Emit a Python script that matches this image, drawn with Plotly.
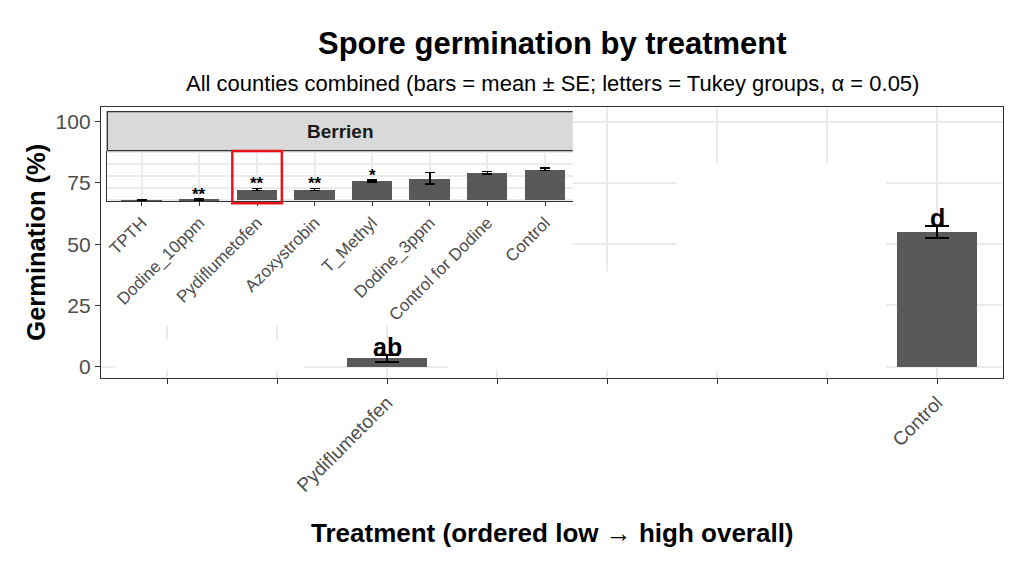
import plotly.graph_objects as go

# treatment order (low -> high overall)
treatments = ["TPTH", "Dodine_10ppm", "Pydiflumetofen", "Azoxystrobin",
              "T_Methyl", "Dodine_3ppm", "Control for Dodine", "Control"]
main_tick_labels = ["", "", "Pydiflumetofen", "", "", "", "", "Control"]

# all counties combined
main_treat = ["Pydiflumetofen", "Control"]
main_mean = [3.4, 54.9]
main_se = [1.4, 2.5]
main_letters = ["ab", "d"]

# Berrien panel
county = "Berrien"
inset_mean = [0.3, 1.5, 22, 22, 40, 45, 57, 64]
inset_se = [0.6, 1.5, 2.0, 2.0, 2.0, 12.0, 2.5, 3.0]
inset_stars = ["", "**", "**", "**", "*", "", "", ""]

y_ticks = [0, 25, 50, 75, 100]

FONT = "Liberation Sans, Arial, sans-serif"
GRID = "#EBEBEB"
AXIS = "#333333"
BAR = "#595959"

fig = go.Figure()

fig.add_trace(go.Bar(
    x=main_treat, y=main_mean, width=0.72,
    marker=dict(color=BAR, line=dict(width=0)),
    error_y=dict(type="data", array=main_se, color="black", thickness=2, width=12),
    xaxis="x", yaxis="y", showlegend=False,
))

fig.add_trace(go.Bar(
    x=treatments, y=inset_mean, width=0.7,
    marker=dict(color=BAR, line=dict(width=0)),
    error_y=dict(type="data", array=inset_se, color="black", thickness=1.6, width=5),
    xaxis="x2", yaxis="y2", showlegend=False,
))

annotations = []
for t, m, s, lab in zip(main_treat, main_mean, main_se, main_letters):
    annotations.append(dict(x=t, y=m + s, xref="x", yref="y", text="<b>%s</b>" % lab,
                            showarrow=False, yanchor="bottom", yshift=-8,
                            font=dict(family=FONT, size=25, color="black")))
for t, m, s, st in zip(treatments, inset_mean, inset_se, inset_stars):
    if st:
        annotations.append(dict(x=t, y=m + s, xref="x2", yref="y2", text="<b>%s</b>" % st,
                                showarrow=False, yanchor="bottom", yshift=-7,
                                font=dict(family=FONT, size=17, color="black")))

annotations += [
    dict(x=0.5, y=1.2325, xref="paper", yref="paper", showarrow=False,
         xanchor="center", yanchor="middle",
         text="<b>Spore germination by treatment</b>",
         font=dict(family=FONT, size=31, color="black")),
    dict(x=0.5, y=1.085, xref="paper", yref="paper", showarrow=False,
         xanchor="center", yanchor="middle",
         text="All counties combined (bars = mean ± SE; letters = Tukey groups, α = 0.05)",
         font=dict(family=FONT, size=22, color="black")),
    dict(x=0.5, y=-0.572, xref="paper", yref="paper", showarrow=False,
         xanchor="center", yanchor="middle",
         text="<b>Treatment (ordered low → high overall)</b>",
         font=dict(family=FONT, size=26, color="black")),
    dict(x=-0.073, y=0.5, xref="paper", yref="paper", showarrow=False, textangle=-90,
         xanchor="center", yanchor="middle",
         text="<b>Germination (%)</b>",
         font=dict(family=FONT, size=25.5, color="black")),
    dict(x=0.265, y=0.911, xref="paper", yref="paper", showarrow=False,
         xanchor="center", yanchor="middle",
         text="<b>%s</b>" % county,
         font=dict(family=FONT, size=19, color="#1A1A1A")),
]

# white patches where the main panel is blank
masks = [(-0.7, 3.69, 17, 110), (4.63, 6.54, -1.4, 83), (3.69, 4.63, -1.4, 39),
         (2.56, 3.69, -1.4, 17), (-0.7, 2.56, 0.8, 11), (-0.47, 1.25, -1.4, 0.8)]
shapes = []
for x0, x1, y0, y1 in masks:
    shapes.append(dict(type="rect", xref="x", yref="y", x0=x0, x1=x1, y0=y0, y1=y1,
                       fillcolor="white", line=dict(width=0), layer="between"))

# facet strip
sx0, sx1, sy0, sy1 = 0.007, 0.523, 0.839, 0.983
shapes.append(dict(type="rect", xref="paper", yref="paper", x0=sx0, x1=sx1, y0=sy0, y1=sy1,
                   fillcolor="#D9D9D9", line=dict(width=0), layer="above"))
shapes.append(dict(type="path", xref="paper", yref="paper",
                   path="M %f,%f L %f,%f L %f,%f M %f,%f L %f,%f" % (
                       sx1, sy1, sx0, sy1, sx0, sy0, sx0, sy0, sx1, sy0),
                   line=dict(color=AXIS, width=1.4), layer="above"))
# highlight box
shapes.append(dict(type="rect", xref="x2", yref="paper", x0=1.57, x1=2.43, y0=0.645, y1=0.838,
                   line=dict(color="#E8141B", width=2.5), layer="above"))

fig.update_layout(
    width=1024, height=576,
    margin=dict(l=101, r=21, t=107, b=198),
    plot_bgcolor="white", paper_bgcolor="white",
    font=dict(family=FONT),
    bargap=0,
    annotations=annotations,
    shapes=shapes,
    xaxis=dict(domain=[0, 1], type="category", categoryorder="array", categoryarray=treatments,
               range=[-0.6, 7.6], tickvals=treatments, ticktext=main_tick_labels,
               tickangle=-45, tickfont=dict(family=FONT, size=19, color="#4D4D4D"),
               ticks="outside", ticklen=5, tickwidth=1.3, tickcolor=AXIS,
               showgrid=True, gridcolor=GRID, gridwidth=1.5,
               showline=True, mirror=True, linecolor=AXIS, linewidth=1.3, anchor="y"),
    yaxis=dict(domain=[0, 1], range=[-4.6, 106], tickvals=y_ticks,
               tickfont=dict(family=FONT, size=21, color="#4D4D4D"),
               ticks="outside", ticklen=5, tickwidth=1.3, tickcolor=AXIS,
               showgrid=True, gridcolor=GRID, gridwidth=1.5, zeroline=False,
               showline=True, mirror=True, linecolor=AXIS, linewidth=1.3, anchor="x"),
    xaxis2=dict(domain=[sx0, sx1], anchor="y2", type="category", categoryorder="array",
                categoryarray=treatments, range=[-0.6, 7.48],
                tickangle=-45, tickfont=dict(family=FONT, size=17, color="#4D4D4D"),
                ticks="outside", ticklen=4, tickwidth=1.3, tickcolor=AXIS,
                showgrid=True, gridcolor=GRID, gridwidth=1.5,
                showline=True, linecolor=AXIS, linewidth=1.4),
    yaxis2=dict(domain=[0.653, sy0], anchor="x2", range=[-2.1, 102.7], tickvals=y_ticks,
                showticklabels=False, ticks="", showgrid=True, gridcolor=GRID, gridwidth=1.5,
                zeroline=False, showline=True, linecolor=AXIS, linewidth=1.4),
)

fig.write_html("out.html", config={"displayModeBar": False},
               post_script="document.body.style.margin='0';")
